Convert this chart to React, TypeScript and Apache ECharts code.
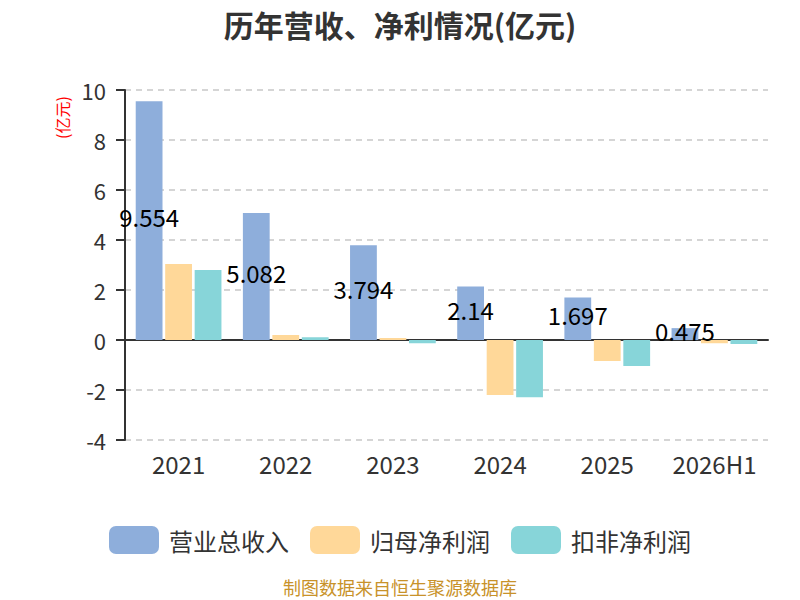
import React, { useEffect, useRef } from "react";
import * as echarts from "echarts";

const categories = ["2021", "2022", "2023", "2024", "2025", "2026H1"];
const revenue = [9.554, 5.082, 3.794, 2.14, 1.697, 0.475];
const netProfit = [3.04, 0.2, 0.08, -2.2, -0.84, -0.13];
const deductedProfit = [2.8, 0.11, -0.13, -2.29, -1.04, -0.16];
const seriesNames = ["营业总收入", "归母净利润", "扣非净利润"];
const colors = ["#8eaedb", "#ffd899", "#87d5d9"];

export default function App() {
  const ref = useRef<HTMLDivElement>(null);
  useEffect(() => {
    if (!ref.current) return;
    const chart = echarts.init(ref.current, null, { renderer: "svg" });
    const font = "'Microsoft YaHei', 'Noto Sans CJK SC', sans-serif";
    chart.setOption({
      animation: false,
      textStyle: { fontFamily: font },
      title: {
        text: "历年营收、净利情况(亿元)",
        left: "center",
        top: 4,
        textStyle: { fontSize: 30, fontWeight: "bold", color: "#333", fontFamily: font },
      },
      color: colors,
      grid: { left: 125, right: 32, top: 90, bottom: 160 },
      legend: {
        top: 521,
        left: "center",
        itemWidth: 50,
        itemHeight: 28,
        itemGap: 21,
        textStyle: { fontSize: 24, color: "#333", padding: [0, 0, 0, 5] },
        data: seriesNames,
      },
      xAxis: {
        type: "category",
        data: categories,
        axisLine: { lineStyle: { color: "#333", width: 2 } },
        axisTick: { length: 9, lineStyle: { color: "#333", width: 2 } },
        axisLabel: { fontSize: 24, color: "#333", margin: 11, interval: 0 },
      },
      yAxis: {
        type: "value",
        min: -4,
        max: 10,
        interval: 2,
        axisLine: { show: true, lineStyle: { color: "#333", width: 2 } },
        axisTick: { show: true, length: 9, lineStyle: { color: "#333", width: 2 } },
        axisLabel: { fontSize: 22, color: "#333", margin: 19 },
        splitLine: { lineStyle: { type: [6, 5], color: "#c8c8c8", width: 1.5 } },
      },
      graphic: [
        {
          type: "text",
          x: 54,
          y: 139,
          rotation: Math.PI / 2,
          style: {
            text: "(亿元)",
            fill: "#ff0000",
            fontSize: 16,
            fontFamily: font,
            align: "left",
            verticalAlign: "top",
          },
        },
        {
          type: "text",
          left: "center",
          top: 578,
          style: { text: "制图数据来自恒生聚源数据库", fill: "#c8922a", fontSize: 18, fontFamily: font },
        },
      ],
      series: [
        {
          name: seriesNames[0],
          type: "bar",
          data: revenue,
          barWidth: "25%",
          barGap: "10%",
          label: { show: true, position: "inside", color: "#000", fontSize: 24, offset: [0, -4] },
        },
        { name: seriesNames[1], type: "bar", data: netProfit, barWidth: "25%", barGap: "10%" },
        { name: seriesNames[2], type: "bar", data: deductedProfit, barWidth: "25%", barGap: "10%" },
      ],
    });
    return () => chart.dispose();
  }, []);
  return (
    <div
      ref={ref}
      style={{ position: "absolute", left: 0, top: 0, width: 800, height: 600 }}
    />
  );
}
